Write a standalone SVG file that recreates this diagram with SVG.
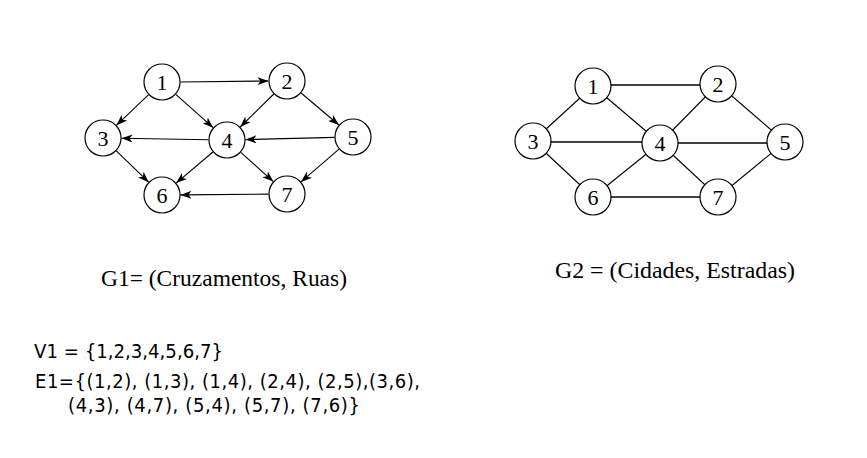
<svg xmlns="http://www.w3.org/2000/svg" width="867" height="458" viewBox="0 0 867 458">
<style>
.nd circle{fill:#fff;stroke:#000;stroke-width:1.2}
.nd text{font-family:"Liberation Serif","Times New Roman",serif;font-size:22px;text-anchor:middle;fill:#000}
.arr line{stroke:#000;stroke-width:1.1;marker-end:url(#ah)}
.und line{stroke:#000;stroke-width:1.1}
.und line.h{stroke-width:1.7}
.cap{font-family:"Liberation Serif","Times New Roman",serif;font-size:23px;fill:#000}
.set{font-family:"DejaVu Sans Condensed","DejaVu Sans","Liberation Sans",sans-serif;font-size:20px;fill:#000}
</style>
<defs>
<marker id="ah" markerWidth="11" markerHeight="8" refX="11" refY="4" orient="auto" markerUnits="userSpaceOnUse">
<path d="M0,0 L11,4 L0,8 L3,4 z" fill="#000"/>
</marker>
</defs>
<rect width="867" height="458" fill="#fff"/>

<g id="g1-connectors" class="arr">
<line x1="180.5" y1="82" x2="268.5" y2="81"/>
<line x1="148.6" y1="94.7" x2="116.4" y2="125.3"/>
<line x1="175.8" y1="94.3" x2="213.2" y2="127.7"/>
<line x1="273.8" y1="94" x2="240.2" y2="127"/>
<line x1="301.1" y1="93" x2="338.9" y2="125"/>
<line x1="208.5" y1="139.7" x2="121.5" y2="138.3"/>
<line x1="116.3" y1="150.9" x2="148.7" y2="182.2"/>
<line x1="212.9" y1="152" x2="176.1" y2="183.1"/>
<line x1="240.8" y1="152.4" x2="273.3" y2="181.6"/>
<line x1="334.5" y1="137.4" x2="245.5" y2="139.6"/>
<line x1="339" y1="149.1" x2="301" y2="181.9"/>
<line x1="268.5" y1="194.1" x2="180.5" y2="194.9"/>
</g>

<g id="g1-n1" class="nd"><circle cx="162" cy="82" r="18"/><text x="162" y="89.5">1</text></g>
<g id="g1-n2" class="nd"><circle cx="287" cy="81" r="18"/><text x="287" y="88.5">2</text></g>
<g id="g1-n3" class="nd"><circle cx="103" cy="138" r="18"/><text x="103" y="145.5">3</text></g>
<g id="g1-n4" class="nd"><circle cx="227" cy="140" r="18"/><text x="227" y="147.5">4</text></g>
<g id="g1-n5" class="nd"><circle cx="353" cy="137" r="18"/><text x="353" y="144.5">5</text></g>
<g id="g1-n6" class="nd"><circle cx="162" cy="195" r="18"/><text x="162" y="202.5">6</text></g>
<g id="g1-n7" class="nd"><circle cx="287" cy="194" r="18"/><text x="287" y="201.5">7</text></g>

<g id="g2-connectors" class="und">
<line class="h" x1="593" y1="85" x2="718" y2="85"/>
<line x1="593" y1="86" x2="533" y2="141"/>
<line x1="593" y1="86" x2="660" y2="143"/>
<line x1="718" y1="84" x2="660" y2="143"/>
<line x1="718" y1="84" x2="785" y2="142"/>
<line class="h" x1="533" y1="142" x2="660" y2="142"/>
<line x1="533" y1="141" x2="593" y2="197"/>
<line class="h" x1="660" y1="143" x2="785" y2="143"/>
<line x1="660" y1="143" x2="593" y2="197"/>
<line x1="660" y1="143" x2="718" y2="197"/>
<line x1="785" y1="142" x2="718" y2="197"/>
<line class="h" x1="593" y1="197" x2="718" y2="197"/>
</g>

<g id="g2-n1" class="nd"><circle cx="593" cy="86" r="18"/><text x="593" y="93.5">1</text></g>
<g id="g2-n2" class="nd"><circle cx="718" cy="84" r="18"/><text x="718" y="91.5">2</text></g>
<g id="g2-n3" class="nd"><circle cx="533" cy="141" r="18"/><text x="533" y="148.5">3</text></g>
<g id="g2-n4" class="nd"><circle cx="660" cy="143" r="18"/><text x="660" y="150.5">4</text></g>
<g id="g2-n5" class="nd"><circle cx="785" cy="142" r="18"/><text x="785" y="149.5">5</text></g>
<g id="g2-n6" class="nd"><circle cx="593" cy="197" r="18"/><text x="593" y="204.5">6</text></g>
<g id="g2-n7" class="nd"><circle cx="718" cy="197" r="18"/><text x="718" y="204.5">7</text></g>

<text class="cap" x="101" y="286" textLength="246" lengthAdjust="spacingAndGlyphs">G1= (Cruzamentos, Ruas)</text>
<text class="cap" x="555" y="278" textLength="240" lengthAdjust="spacingAndGlyphs">G2 = (Cidades, Estradas)</text>

<text class="set" x="34" y="357.5" textLength="189" lengthAdjust="spacingAndGlyphs">V1 = {1,2,3,4,5,6,7}</text>
<text class="set" x="35" y="387.5" textLength="385" lengthAdjust="spacing">E1={(1,2), (1,3), (1,4), (2,4), (2,5),(3,6),</text>
<text class="set" x="68" y="411.5" textLength="292" lengthAdjust="spacing">(4,3), (4,7), (5,4), (5,7), (7,6)}</text>
</svg>
